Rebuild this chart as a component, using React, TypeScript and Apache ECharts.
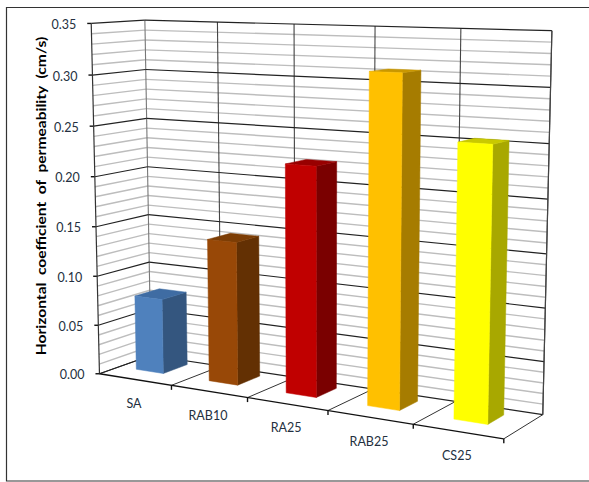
import React, { useEffect, useRef } from "react";
import * as echarts from "echarts";

const categories = ["SA", "RAB10", "RA25", "RAB25", "CS25"];
const permeability = [0.076, 0.142, 0.222, 0.312, 0.253];
const frontColors = ["#4f81bd", "#984807", "#c00000", "#ffc000", "#ffff00"];
const sideColors = ["#34567f", "#633003", "#7a0000", "#a67c00", "#a8a800"];
const topColors = ["#3f6ca3", "#7c3d05", "#980000", "#c99700", "#c9c900"];
const valueTicks = ["0.00", "0.05", "0.10", "0.15", "0.20", "0.25", "0.30", "0.35"];
const axisTitle = "Horizontal  coefficient  of  permeability  (cm/s)";

const FONT = "Lato, 'Open Sans', sans-serif";
const GRID = { left: 100, top: 23.5, width: 404, height: 348.5 };
const VALUE_MAX = 0.35;
const BAR_U = [-0.26, 0.12];
const BAR_D = [0.38, 0.86];
const BAR_U_DRIFT = 0.009;
const BAR_D_DRIFT = 0.02;

// Camera calibration: box coordinates [u, depth, height] and where they land on screen.
const CAMERA_ANCHORS: number[][] = [
  [0, 0, 0, 100, 372], [1, 0, 0, 504, 439], [0, 1, 0, 150.5, 357], [1, 1, 0, 543, 413],
  [0, 0, 1, 91, 23.5], [0, 1, 1, 145, 20], [1, 1, 1, 552, 31],
  [0.2, 0, 0, 171.7, 385], [0.4, 0, 0, 247, 397.7], [0.6, 0, 0, 328, 411.7], [0.8, 0, 0, 413, 425],
  [0.2, 1, 1, 217.7, 22], [0.4, 1, 1, 294, 24], [0.6, 1, 1, 375, 26], [0.8, 1, 1, 460.7, 28.3],
];

function solveLinear(m: number[][], r: number[]): number[] {
  const n = r.length;
  for (let c = 0; c < n; c++) {
    let p = c;
    for (let i = c + 1; i < n; i++) if (Math.abs(m[i][c]) > Math.abs(m[p][c])) p = i;
    [m[c], m[p]] = [m[p], m[c]];
    [r[c], r[p]] = [r[p], r[c]];
    for (let i = c + 1; i < n; i++) {
      const f = m[i][c] / m[c][c];
      for (let j = c; j < n; j++) m[i][j] -= f * m[c][j];
      r[i] -= f * r[c];
    }
  }
  const x = new Array(n).fill(0);
  for (let i = n - 1; i >= 0; i--) {
    let s = r[i];
    for (let j = i + 1; j < n; j++) s -= m[i][j] * x[j];
    x[i] = s / m[i][i];
  }
  return x;
}

// Least-squares fit of a projective camera to the anchors.
function fitCamera(anchors: number[][]): number[] {
  const rows: number[][] = [];
  const rhs: number[] = [];
  anchors.forEach(([u, d, h, sx, sy]) => {
    const x = sx / 500;
    const y = sy / 500;
    rows.push([1, u, d, h, 0, 0, 0, 0, -x * u, -x * d, -x * h]);
    rhs.push(x);
    rows.push([0, 0, 0, 0, 1, u, d, h, -y * u, -y * d, -y * h]);
    rhs.push(y);
  });
  const n = 11;
  const ata = Array.from({ length: n }, () => new Array(n).fill(0));
  const atb = new Array(n).fill(0);
  rows.forEach((row, k) => {
    for (let i = 0; i < n; i++) {
      atb[i] += row[i] * rhs[k];
      for (let j = 0; j < n; j++) ata[i][j] += row[i] * row[j];
    }
  });
  return solveLinear(ata, atb);
}

const cam = fitCamera(CAMERA_ANCHORS);
function project(u: number, d: number, h: number): number[] {
  const w = 1 + cam[8] * u + cam[9] * d + cam[10] * h;
  return [
    (500 * (cam[0] + cam[1] * u + cam[2] * d + cam[3] * h)) / w,
    (500 * (cam[4] + cam[5] * u + cam[6] * d + cam[7] * h)) / w,
  ];
}

const toU = (px: number) => (px - GRID.left) / GRID.width;
const toH = (py: number) => (GRID.top + GRID.height - py) / GRID.height;

function segment(a: number[], b: number[], stroke: string, lineWidth: number) {
  return {
    type: "line",
    shape: { x1: a[0], y1: a[1], x2: b[0], y2: b[1] },
    style: { stroke, lineWidth, fill: "none" },
  };
}

function renderBox(_params: any, api: any) {
  const children: any[] = [];
  const heightOf = (v: number) => toH(api.coord([0, v])[1]);
  const step = 0.01;
  const count = Math.round(VALUE_MAX / step);

  // Fine gridlines on the left and back walls.
  for (let k = 1; k <= count; k++) {
    if (k % 5 === 0) continue;
    const h = heightOf(k * step);
    children.push(segment(project(0, 0, h), project(0, 1, h), "#bdbdbd", 1.4));
    children.push(segment(project(0, 1, h), project(1, 1, h), "#bdbdbd", 1.4));
  }
  // Edges at category boundaries, on the back wall and across the floor.
  const band = api.size([1, 0])[0] / GRID.width;
  for (let i = 0; i <= categories.length; i++) {
    const u = i * band;
    const wallColor = i === 0 ? "#777777" : "#444444";
    const foot = project(u, 0, 0);
    children.push(segment(project(u, 1, 0), project(u, 1, 1), wallColor, 1.1));
    children.push(segment(foot, project(u, 1, 0), "#333333", 1));
    if (i > 0) children.push(segment(foot, [foot[0], foot[1] + 4.5], "#111111", 1.4));
  }
  // Major gridlines, with ticks and labels on the value axis.
  valueTicks.forEach((label) => {
    const h = heightOf(Number(label));
    const p = project(0, 0, h);
    children.push(segment(p, project(0, 1, h), "#222222", 1.2));
    children.push(segment(project(0, 1, h), project(1, 1, h), "#222222", 1.2));
    children.push(segment([p[0] - 4, p[1]], p, "#111111", 1.4));
    children.push({
      type: "text",
      style: {
        text: label, x: p[0] - 15, y: p[1] + 1, align: "right", verticalAlign: "middle",
        fill: "#243040", font: `12.5px ${FONT}`,
      },
    });
  });
  children.push(segment(project(0, 0, 0), project(0, 0, 1), "#333333", 1.2));
  children.push(segment(project(0, 0, 0), project(1, 0, 0), "#111111", 1.3));
  children.push(segment(project(1, 1, 0), project(1, 1, 1), "#444444", 1.2));

  // Category labels under the front edge.
  categories.forEach((name, i) => {
    const p = project((i + 0.5) * band, 0, 0);
    children.push({
      type: "text",
      style: {
        text: name, x: p[0] - 1, y: p[1] + 24, align: "center", verticalAlign: "middle",
        fill: "#243040", font: `12.5px ${FONT}`,
      },
    });
  });
  return { type: "group", children };
}

function renderBar(_params: any, api: any) {
  const i = api.value(0);
  const tip = api.coord([i, api.value(1)]);
  const band = api.size([1, 0])[0] / GRID.width;
  const uc = toU(tip[0]);
  const h = toH(tip[1]);
  const u0 = uc + (BAR_U[0] + BAR_U_DRIFT * i) * band;
  const u1 = uc + (BAR_U[1] + BAR_U_DRIFT * i) * band;
  const d0 = BAR_D[0];
  const d1 = BAR_D[1] - BAR_D_DRIFT * i;
  const face = (pts: number[][], fill: string) => ({
    type: "polygon",
    shape: { points: pts.map(([u, d, z]) => project(u, d, z)) },
    style: { fill, stroke: fill, lineWidth: 0.5 },
  });
  return {
    type: "group",
    children: [
      face([[u1, d0, 0], [u1, d1, 0], [u1, d1, h], [u1, d0, h]], sideColors[i]),
      face([[u0, d0, h], [u1, d0, h], [u1, d1, h], [u0, d1, h]], topColors[i]),
      face([[u0, d0, 0], [u1, d0, 0], [u1, d0, h], [u0, d0, h]], frontColors[i]),
    ],
  };
}

export default function App() {
  const ref = useRef<HTMLDivElement>(null);
  useEffect(() => {
    if (!ref.current) return;
    const chart = echarts.init(ref.current, undefined, { renderer: "svg" });
    chart.setOption({
      animation: false,
      backgroundColor: "#ffffff",
      grid: { ...GRID },
      xAxis: { type: "category", data: categories, show: false },
      yAxis: { type: "value", min: 0, max: VALUE_MAX, interval: 0.05, show: false },
      graphic: [
        {
          type: "polyline",
          shape: { points: [[640, 7.5], [6.5, 7.5], [6.5, 481], [640, 481]] },
          style: { fill: "none", stroke: "#333333", lineWidth: 1.2 },
          silent: true,
        },
        {
          type: "text",
          x: 41, y: 196, rotation: Math.PI / 2, scaleX: 1.2,
          style: {
            text: axisTitle, align: "center", verticalAlign: "middle",
            fill: "#000000", font: `bold 13px ${FONT}`,
          },
          silent: true,
        },
      ],
      series: [
        {
          type: "custom", coordinateSystem: "cartesian2d", silent: true,
          renderItem: renderBox, data: [[0, 0]], z: 1,
        },
        {
          type: "custom", coordinateSystem: "cartesian2d", silent: true,
          renderItem: renderBar, z: 2,
          data: permeability.map((v, i) => [i, v]),
        },
      ],
    });
    return () => chart.dispose();
  }, []);
  return <div ref={ref} style={{ position: "fixed", left: 0, top: 0, width: 589, height: 482 }} />;
}
